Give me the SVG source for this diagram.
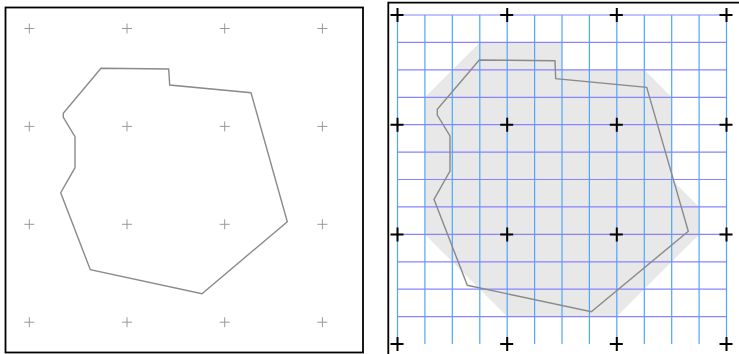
<svg xmlns="http://www.w3.org/2000/svg" width="739" height="354" viewBox="0 0 739 354">
<defs>
<style>
.frame{fill:none;stroke:#000;stroke-width:1.8}
.poly{fill:none;stroke:#8a8a8a;stroke-width:1.4;stroke-linejoin:miter}
.gcross{stroke:#999;stroke-width:1}
.bcross{stroke:#000;stroke-width:2}
.vline{stroke:#4da6ff;stroke-width:1.2}
.hline{stroke:#8585ff;stroke-width:1.2}
.hull{fill:#e8e8e8;stroke:none}
</style>
<path id="gc" d="M-5,0H5M0,-5V5"/>
<path id="bc" d="M-7,0H6M0,-7V7"/>
</defs>
<rect width="739" height="354" fill="#fff"/>
<g id="left-panel">
<rect class="frame" x="5.5" y="7.5" width="357.5" height="345"/>
<g id="left-crosses" class="gcross">
<use href="#gc" x="29.3" y="28.5"/><use href="#gc" x="127" y="28.5"/><use href="#gc" x="224.7" y="28.5"/><use href="#gc" x="322.4" y="28.5"/>
<use href="#gc" x="29.3" y="126.4"/><use href="#gc" x="127" y="126.4"/><use href="#gc" x="224.7" y="126.4"/><use href="#gc" x="322.4" y="126.4"/>
<use href="#gc" x="29.3" y="224.3"/><use href="#gc" x="127" y="224.3"/><use href="#gc" x="224.7" y="224.3"/><use href="#gc" x="322.4" y="224.3"/>
<use href="#gc" x="29.3" y="322.2"/><use href="#gc" x="127" y="322.2"/><use href="#gc" x="224.7" y="322.2"/><use href="#gc" x="322.4" y="322.2"/>
</g>
<polygon id="left-shape" class="poly" points="101,68.3 168.7,69 169.7,85 251,92.7 287.3,221.7 202,293.7 90.3,269.7 60.7,192.7 75,167.7 75,136.7 63.3,117.3 63.3,113.3"/>
</g>
<g id="right-panel">
<path class="frame" d="M388.3,354V2.7H739"/>
<polygon id="hull" class="hull" points="479.8,42.4 562,42.4 562,69.8 644.3,69.8 671.7,97.3 671.7,179.5 699.1,206.9 699.1,234.4 616.8,316.6 507.2,316.6 424.9,234.4 424.9,97.3"/>
<g id="grid-v" class="vline">
<line x1="397.5" y1="15" x2="397.5" y2="344"/>
<line x1="424.9" y1="15" x2="424.9" y2="344"/>
<line x1="452.3" y1="15" x2="452.3" y2="344"/>
<line x1="479.8" y1="15" x2="479.8" y2="344"/>
<line x1="507.2" y1="15" x2="507.2" y2="344"/>
<line x1="534.6" y1="15" x2="534.6" y2="344"/>
<line x1="562" y1="15" x2="562" y2="344"/>
<line x1="589.4" y1="15" x2="589.4" y2="344"/>
<line x1="616.8" y1="15" x2="616.8" y2="344"/>
<line x1="644.3" y1="15" x2="644.3" y2="344"/>
<line x1="671.7" y1="15" x2="671.7" y2="344"/>
<line x1="699.1" y1="15" x2="699.1" y2="344"/>
<line x1="726.5" y1="15" x2="726.5" y2="344"/>
</g>
<g id="grid-h" class="hline">
<line x1="397.5" y1="15" x2="726.5" y2="15"/>
<line x1="397.5" y1="42.4" x2="726.5" y2="42.4"/>
<line x1="397.5" y1="69.8" x2="726.5" y2="69.8"/>
<line x1="397.5" y1="97.3" x2="726.5" y2="97.3"/>
<line x1="397.5" y1="124.7" x2="726.5" y2="124.7"/>
<line x1="397.5" y1="152.1" x2="726.5" y2="152.1"/>
<line x1="397.5" y1="179.5" x2="726.5" y2="179.5"/>
<line x1="397.5" y1="206.9" x2="726.5" y2="206.9"/>
<line x1="397.5" y1="234.4" x2="726.5" y2="234.4"/>
<line x1="397.5" y1="261.8" x2="726.5" y2="261.8"/>
<line x1="397.5" y1="289.2" x2="726.5" y2="289.2"/>
<line x1="397.5" y1="316.6" x2="726.5" y2="316.6"/>
</g>
<polygon id="right-shape" class="poly" points="479.3,60 555,60.7 555.7,78.7 646.7,87.3 688.3,231.3 591.3,311.7 467.3,285.3 434,199.3 450,171 450,136 437.3,115 437.3,109.3"/>
<g id="right-crosses" class="bcross">
<use href="#bc" x="397.5" y="15"/><use href="#bc" x="507.2" y="15"/><use href="#bc" x="616.8" y="15"/><use href="#bc" x="726.5" y="15"/>
<use href="#bc" x="397.5" y="124.7"/><use href="#bc" x="507.2" y="124.7"/><use href="#bc" x="616.8" y="124.7"/><use href="#bc" x="726.5" y="124.7"/>
<use href="#bc" x="397.5" y="234.4"/><use href="#bc" x="507.2" y="234.4"/><use href="#bc" x="616.8" y="234.4"/><use href="#bc" x="726.5" y="234.4"/>
<use href="#bc" x="397.5" y="344"/><use href="#bc" x="507.2" y="344"/><use href="#bc" x="616.8" y="344"/><use href="#bc" x="726.5" y="344"/>
</g>
</g>
</svg>
